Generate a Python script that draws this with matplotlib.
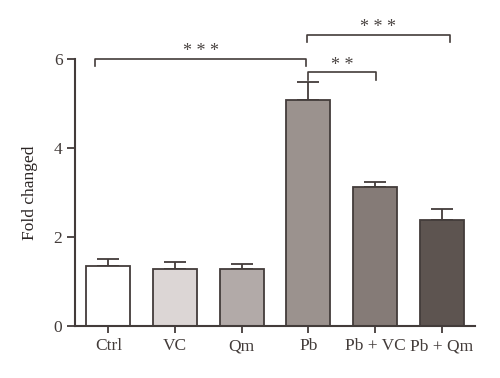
import matplotlib
matplotlib.use("Agg")
import matplotlib.pyplot as plt

# data
groups = ["Ctrl", "VC", "Qm", "Pb", "Pb + VC", "Pb + Qm"]
means = [1.34, 1.28, 1.27, 5.07, 3.12, 2.38]
errs = [0.16, 0.16, 0.11, 0.42, 0.12, 0.24]
colors = ["#ffffff", "#dcd6d5", "#b2aaa8", "#9b928e", "#857b77", "#5d5450"]

# significance brackets: (x0, x1, line y, drop y, label)
brackets = [(-0.2, 2.97, 6.0, 5.84, "* * *"),
            (2.98, 5.12, 6.55, 6.38, "* * *"),
            (3.0, 4.02, 5.70, 5.53, "* *")]

INK = "#433c3a"
plt.rcParams.update({"font.family": ["Liberation Serif", "DejaVu Serif"], "font.size": 12.5,
                     "axes.edgecolor": INK, "xtick.color": INK, "ytick.color": INK,
                     "text.color": "#2b2524", "axes.labelcolor": "#2b2524"})

fig = plt.figure(figsize=(5.0, 3.78), dpi=100)
ax = fig.add_axes([0.15, 0.138, 0.80, 0.706])

x = list(range(len(groups)))
ax.bar(x, means, width=0.66, color=colors, edgecolor=INK, linewidth=1.3, zorder=2)
for xi, m, e in zip(x, means, errs):
    ax.errorbar(xi, m, yerr=[[0], [e]], fmt="none", ecolor=INK, elinewidth=1.3,
                capsize=8, capthick=1.3, zorder=1)

for x0, x1, y, yd, lab in brackets:
    ax.plot([x0, x0, x1, x1], [yd, y, y, yd], color=INK, lw=1.2, clip_on=False)
    ax.text((x0 + x1) / 2, y - 0.03, lab, ha="center", va="bottom", fontsize=13,
            color="#4a4442")

ax.set_xlim(-0.5, 5.5)
ax.set_ylim(0, 6)
ax.set_yticks([0, 2, 4, 6])
ax.set_xticks(x)
ax.set_xticklabels(groups)
ax.set_ylabel("Fold changed", labelpad=11)
ax.tick_params(axis="y", length=6, width=1.3, pad=3)
ax.tick_params(axis="x", length=5, width=1.3, pad=4)
for s in ("top", "right"):
    ax.spines[s].set_visible(False)
for s in ("left", "bottom"):
    ax.spines[s].set_linewidth(1.5)

fig.savefig("out.png", dpi=100)
